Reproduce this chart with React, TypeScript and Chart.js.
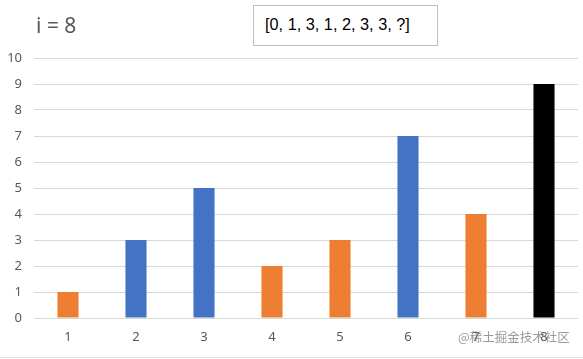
import React, { useEffect, useRef } from "react";
import { Chart, registerables } from "chart.js";

Chart.register(...registerables);

const categories = ["1", "2", "3", "4", "5", "6", "7", "8"];
const values = [1, 3, 5, 2, 3, 7, 4, 9];
const barColors = ["#ED7D31", "#4472C4", "#4472C4", "#ED7D31", "#ED7D31", "#4472C4", "#ED7D31", "#000000"];
const yTicks = [0, 1, 2, 3, 4, 5, 6, 7, 8, 9, 10];
const titleText = "i = 8";
const boxText = "[0, 1, 3, 1, 2, 3, 3, ?]";
const watermark = "@稀土掘金技术社区";

export default function App() {
  const ref = useRef<HTMLCanvasElement | null>(null);
  useEffect(() => {
    document.body.style.margin = "0";
    const ctx = ref.current!;
    const chart = new Chart(ctx, {
      type: "bar",
      data: {
        labels: categories,
        datasets: [
          {
            data: values,
            backgroundColor: barColors,
            borderWidth: 0,
            categoryPercentage: 1,
            barPercentage: 0.31,
          },
        ],
      },
      options: {
        animation: false,
        responsive: false,
        maintainAspectRatio: false,
        layout: { padding: { left: 0, right: 5, top: 58, bottom: 0 } },
        plugins: { legend: { display: false }, tooltip: { enabled: false }, title: { display: false } },
        scales: {
          x: {
            grid: { display: false, drawTicks: false },
            border: { display: false },
            ticks: { color: "#595959", font: { family: "Noto Sans", size: 13 }, padding: 11 },
            afterFit: (s: any) => {
              s.height = 41;
            },
          },
          y: {
            min: 0,
            max: 10,
            afterBuildTicks: (s: any) => {
              s.ticks = yTicks.map((v) => ({ value: v }));
            },
            grid: { color: "#d9d9d9", drawTicks: false, lineWidth: 1 },
            border: { display: false },
            ticks: { color: "#595959", font: { family: "Noto Sans", size: 13 }, padding: 12 },
            afterFit: (s: any) => {
              s.width = 34;
            },
          },
        },
      },
    });
    return () => chart.destroy();
  }, []);

  return (
    <div style={{ position: "absolute", left: 0, top: 0, width: 583, height: 359, background: "#fff", overflow: "hidden" }}>
      <canvas ref={ref} width={583} height={359} style={{ position: "absolute", left: 0, top: 0 }} />
      <div
        style={{
          position: "absolute",
          left: 36,
          top: 11,
          fontFamily: "Noto Sans",
          fontSize: 21,
          color: "#595959",
          lineHeight: "28px",
          whiteSpace: "nowrap",
        }}
      >
        {titleText}
      </div>
      <div
        style={{
          position: "absolute",
          left: 253,
          top: 5,
          width: 185,
          height: 41,
          border: "1px solid #bfbfbf",
          background: "#fff",
          boxSizing: "border-box",
        }}
      >
        <div
          style={{
            position: "absolute",
            left: 11,
            top: 8,
            fontFamily: "Liberation Sans",
            fontSize: 16.3,
            lineHeight: "20px",
            color: "#000",
            whiteSpace: "nowrap",
          }}
        >
          {boxText}
        </div>
      </div>
      <div
        style={{
          position: "absolute",
          left: 458,
          top: 328,
          fontFamily: "Noto Sans CJK SC",
          fontSize: 12.5,
          lineHeight: "18px",
          color: "rgba(120,120,120,0.75)",
          whiteSpace: "nowrap",
        }}
      >
        {watermark}
      </div>
      <div style={{ position: "absolute", left: 0, top: 357, width: 583, height: 1, background: "#e3e3e3" }} />
    </div>
  );
}
